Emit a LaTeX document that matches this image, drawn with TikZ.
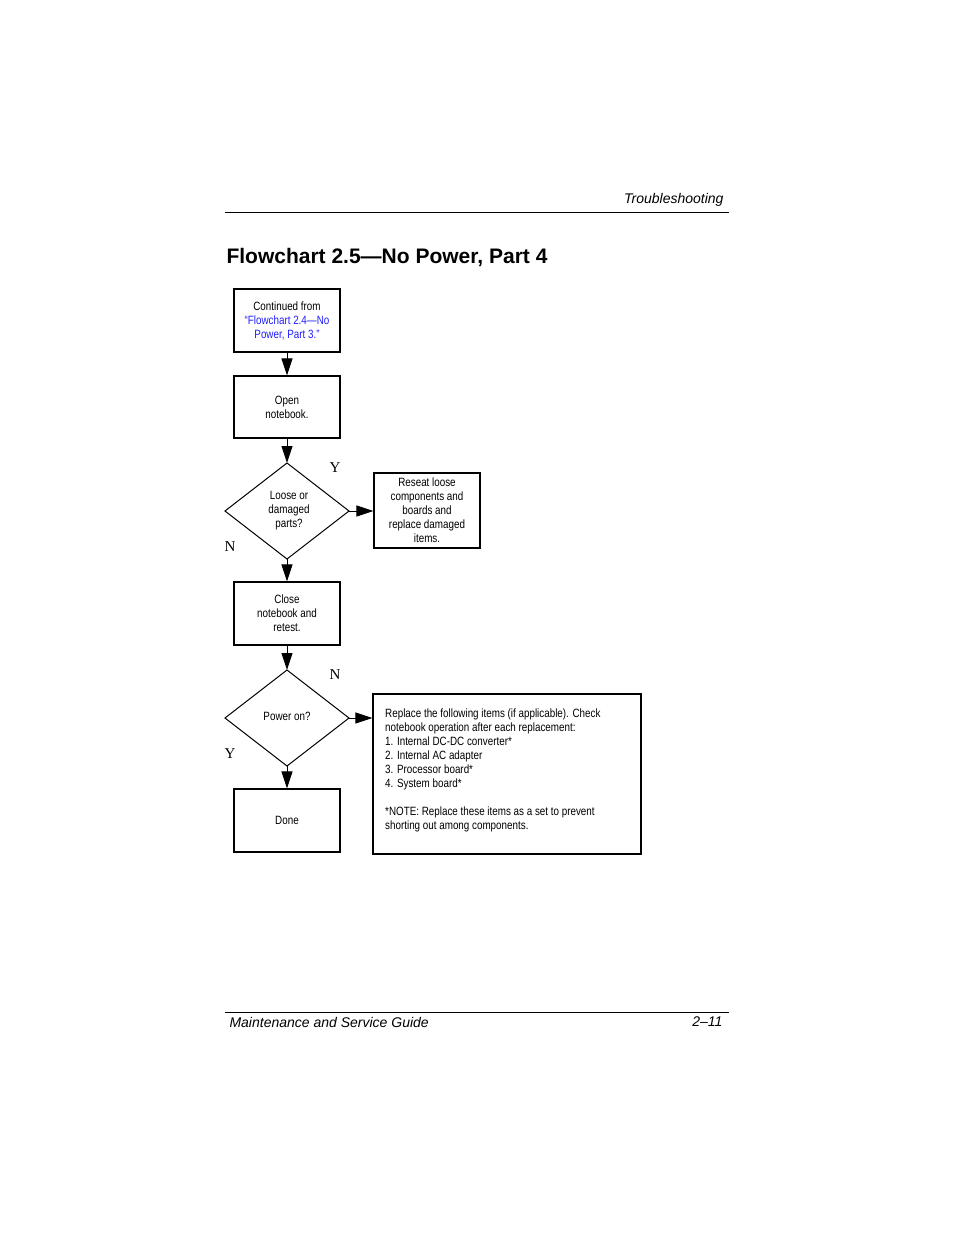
\documentclass[tikz,border=0pt]{standalone}
\usepackage{fontspec}
\setmainfont{Liberation Serif}
\newfontfamily\narrowsans[FakeStretch=0.82]{Liberation Sans}
\newfontfamily\headsans{Liberation Sans}
\usetikzlibrary{arrows.meta}
\definecolor{linkblue}{RGB}{30,30,255}
\begin{document}
\begin{tikzpicture}[x=1pt,y=-1pt,
  box/.style={draw,line width=1.2pt,minimum width=106pt,inner sep=2pt,align=center,font=\narrowsans\fontsize{12}{14}\selectfont},
  dia/.style={draw,line width=1pt},
  lbl/.style={font=\fontsize{15}{15}\selectfont},
  arr/.style={line width=1pt,-{Triangle[length=17pt,width=11pt]}},
  every node/.style={anchor=center}]
\useasboundingbox (0,0) rectangle (954,1235);
% header
\node[anchor=east,font=\headsans\itshape\fontsize{14}{14}\selectfont] (hdr) at (727,200) {Troubleshooting};
\draw[line width=0.7pt] (225,212) -- (729,212);
\node[anchor=west,font=\headsans\bfseries\fontsize{21}{21}\selectfont] (title) at (223,258) {Flowchart 2.5—No Power, Part 4};
% boxes
\node[box,minimum height=63pt] (b1) at (287,320.5) {Continued from\\\textcolor{linkblue}{“Flowchart 2.4—No}\\\textcolor{linkblue}{Power, Part 3.”}};
\node[box,minimum height=62pt] (b2) at (287,407) {Open\\notebook.};
\draw[dia] (287,463) coordinate (d1t) -- (349,511) coordinate (d1r) -- (287,559) coordinate (d1b) -- (225,511) -- cycle;
\node[font=\narrowsans\fontsize{12}{14}\selectfont,align=center] (d1) at (289,511) {Loose or\\damaged\\parts?};
\node[box,minimum width=106pt,minimum height=75pt] (b3) at (427,510.5) {Reseat loose\\components and\\boards and\\replace damaged\\items.};
\node[box,minimum height=63pt] (b4) at (287,613.5) {Close\\notebook and\\retest.};
\draw[dia] (287,670) coordinate (d2t) -- (349,718) coordinate (d2r) -- (287,766) coordinate (d2b) -- (225,718) -- cycle;
\node[font=\narrowsans\fontsize{12}{14}\selectfont] (d2) at (287,716) {Power on?};
\node[box,minimum height=63pt] (b5) at (287,820.5) {Done};
\node[draw,line width=1.2pt,minimum width=268pt,minimum height=160pt] (b6) at (507,774) {};
\node[anchor=north west,align=left,font=\narrowsans\fontsize{12}{14}\selectfont,inner sep=0pt] (b6t) at (385,709) {Replace the following items (if applicable). Check\\notebook operation after each replacement:\\1. Internal DC-DC converter*\\2. Internal AC adapter\\3. Processor board*\\4. System board*\\[14pt]*NOTE: Replace these items as a set to prevent\\shorting out among components.};
% arrows
\draw[arr] (b1.south) -- (b2.north);
\draw[arr] (b2.south) -- (d1t);
\draw[arr] (d1r) -- (b3.west |- d1r);
\draw[arr] (d1b) -- (b4.north);
\draw[arr] (b4.south) -- (d2t);
\draw[arr] (d2r) -- (b6.west |- d2r);
\draw[arr] (d2b) -- (b5.north);
% labels
\node[lbl] (y1) at (335,468) {Y};
\node[lbl] (n1) at (230,547) {N};
\node[lbl] (n2) at (335,675) {N};
\node[lbl] (y2) at (230,754) {Y};
% footer
\draw[line width=0.7pt] (225,1012) -- (729,1012);
\node[anchor=west,font=\headsans\itshape\fontsize{14}{14}\selectfont] (ft1) at (226,1022) {Maintenance and Service Guide};
\node[anchor=east,font=\headsans\itshape\fontsize{14}{14}\selectfont] (ft2) at (726,1022) {2–11};
\end{tikzpicture}
\end{document}
